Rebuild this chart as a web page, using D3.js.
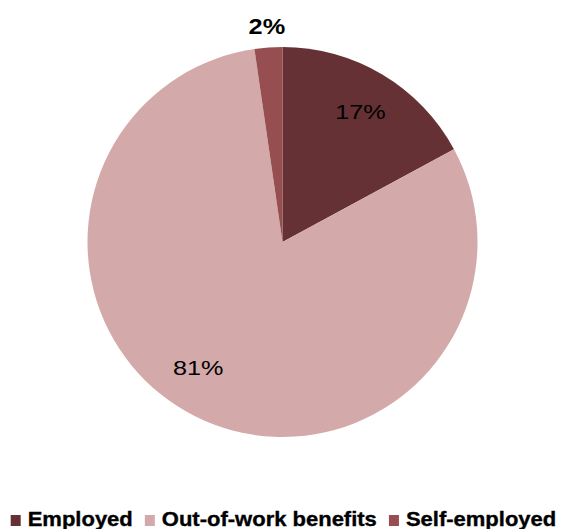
<!DOCTYPE html>
<html>
<head>
<meta charset="utf-8">
<script src="https://cdn.jsdelivr.net/npm/d3@7"></script>
<style>
  html, body { margin: 0; padding: 0; background: #ffffff; }
  svg { display: block; }
  text { font-family: "Liberation Sans", Arial, sans-serif; }
</style>
</head>
<body>
<svg id="chart" width="565" height="529"></svg>
<script>
const categories = ["Employed", "Out-of-work benefits", "Self-employed"];
const values = [17.1, 80.6, 2.3];
const colors = ["#653134", "#d4a9a9", "#964e50"];

const W = 565, H = 529;
const cx = 282.5, cy = 242, R = 195;

const svg = d3.select("#chart");
const g = svg.append("g").attr("transform", `translate(${cx},${cy})`);

const total = d3.sum(values);
const data = categories.map((c, i) => ({ cat: c, value: values[i], color: colors[i] }));

const pie = d3.pie().sort(null).value(d => d.value);
const arcs = pie(data);
const arc = d3.arc().innerRadius(0).outerRadius(R);

g.selectAll("path.slice")
  .data(arcs)
  .enter().append("path")
  .attr("class", "slice")
  .attr("d", arc)
  .attr("fill", d => d.data.color);

const pct = v => Math.round(v / total * 100) + "%";

// data labels: inside for large slices, outside end for small ones
const inArc = d3.arc().innerRadius(R * 0.78).outerRadius(R * 0.78);
const outArc = d3.arc().innerRadius(R * 1.11).outerRadius(R * 1.11);

arcs.forEach((d, i) => {
  const inside = d.data.value / total > 0.05;
  const [x, y] = inside ? inArc.centroid(d) : outArc.centroid(d);
  let lx = x, ly = y;
  if (i === 1) { lx = x - 16; ly = y - 11; }
  g.append("text")
    .attr("transform", `translate(${lx},${ly}) scale(${inside ? 1.2 : 1.15},1)`)
    .attr("text-anchor", "middle")
    .attr("dy", "0.36em")
    .attr("font-size", inside ? 21 : 22)
    .attr("font-weight", inside ? "normal" : "bold")
    .attr("fill", "#000")
    .text(pct(d.data.value));
});

// legend
const legend = svg.append("g");
const fs = 20, sx = 1.1, sq = 10, gapSq = 7, gapItem = 12;
let x = 0;
data.forEach(d => {
  const it = legend.append("g");
  it.append("rect").attr("x", 0).attr("y", -sq - 1).attr("width", sq).attr("height", sq + 1).attr("fill", d.color);
  const t = it.append("text")
    .attr("font-size", fs).attr("font-weight", "bold").attr("fill", "#000")
    .attr("stroke", "#000").attr("stroke-width", 0.35)
    .text(d.cat);
  const w = t.node().getComputedTextLength() * sx;
  t.attr("transform", `translate(${sq + gapSq},0) scale(${sx},1)`);
  it.attr("transform", `translate(${x},0)`);
  x += sq + gapSq + w + gapItem;
});
const totalW = x - gapItem;
legend.attr("transform", `translate(${(W - totalW) / 2 + 1},526)`);
</script>
</body>
</html>
